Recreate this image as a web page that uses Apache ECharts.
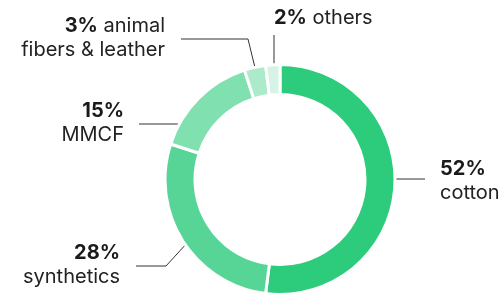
<!DOCTYPE html>
<html>
<head>
<meta charset="utf-8">
<script src="https://cdn.jsdelivr.net/npm/echarts@6/dist/echarts.min.js"></script>
<style>
  html, body { margin: 0; padding: 0; background: #fff; }
  #chart { width: 504px; height: 294px; }
</style>
</head>
<body>
<div id="chart"></div>
<script>
'use strict';
var categories = ['cotton', 'synthetics', 'MMCF', 'animal fibers & leather', 'others'],
		shares = [52, 28, 15, 3, 2],
		// how each label's text is broken into lines
		labelLines = [['', 'cotton'], ['', 'synthetics'], ['', 'MMCF'], [' animal', 'fibers & leather'], [' others']],
		colors = ['#2dcb7c', '#57d597', '#81e0b0', '#abeacb', '#d5f4e5'];

// label placement (layout only): anchor, alignment and leader line points
var labelPlaces = [
	{x: 440, y: 181, align: 'left', line: [[382, 179], [425, 179]]},
	{x: 120, y: 265, align: 'right', line: [[198, 231], [166, 266], [136, 266]]},
	{x: 124, y: 123, align: 'right', line: [[196, 124], [139, 124]]},
	{x: 165, y: 38, align: 'right', line: [[258, 80], [248, 39], [181, 39]]},
	{x: 274, y: 18, align: 'left', line: [[274, 78], [274, 35]]}
];

var chart = echarts.init(document.getElementById('chart'));

function labelText(i) {
	var parts = labelLines[i],
			first = '{p|' + shares[i] + '%}';
	if (parts[0]) {
		first += '{n|' + parts[0] + '}';
	}
	return parts.length > 1 ? first + '\n{n|' + parts[1] + '}' : first;
}

var seriesData = categories.map(function (c, i) {
	return {
		name: c,
		value: shares[i],
		itemStyle: {color: colors[i]}
	};
});

chart.setOption({
	animation: false,
	series: [
		{
			type: 'pie',
			center: [280, 179.5],
			radius: [85, 115],
			startAngle: 90,
			clockwise: true,
			itemStyle: {
				borderColor: '#fff',
				borderWidth: 3
			},
			label: {
				show: true,
				position: 'outside',
				overflow: 'none',
				formatter: function (p) {
					return labelText(p.dataIndex);
				},
				rich: {
					p: {
						fontFamily: 'Inter',
						fontSize: 20,
						fontWeight: 700,
						color: '#1a1a1a',
						lineHeight: 24
					},
					n: {
						fontFamily: 'Inter',
						fontSize: 20,
						fontWeight: 400,
						color: '#222',
						lineHeight: 24
					}
				}
			},
			labelLine: {
				show: true,
				lineStyle: {color: '#333', width: 1}
			},
			labelLayout: function (params) {
				var p = labelPlaces[params.dataIndex];
				return {
					x: p.x,
					y: p.y,
					align: p.align,
					verticalAlign: 'middle',
					width: 200,
					labelLinePoints: p.line
				};
			},
			emphasis: {disabled: true},
			data: seriesData
		}
	]
});
</script>
</body>
</html>
